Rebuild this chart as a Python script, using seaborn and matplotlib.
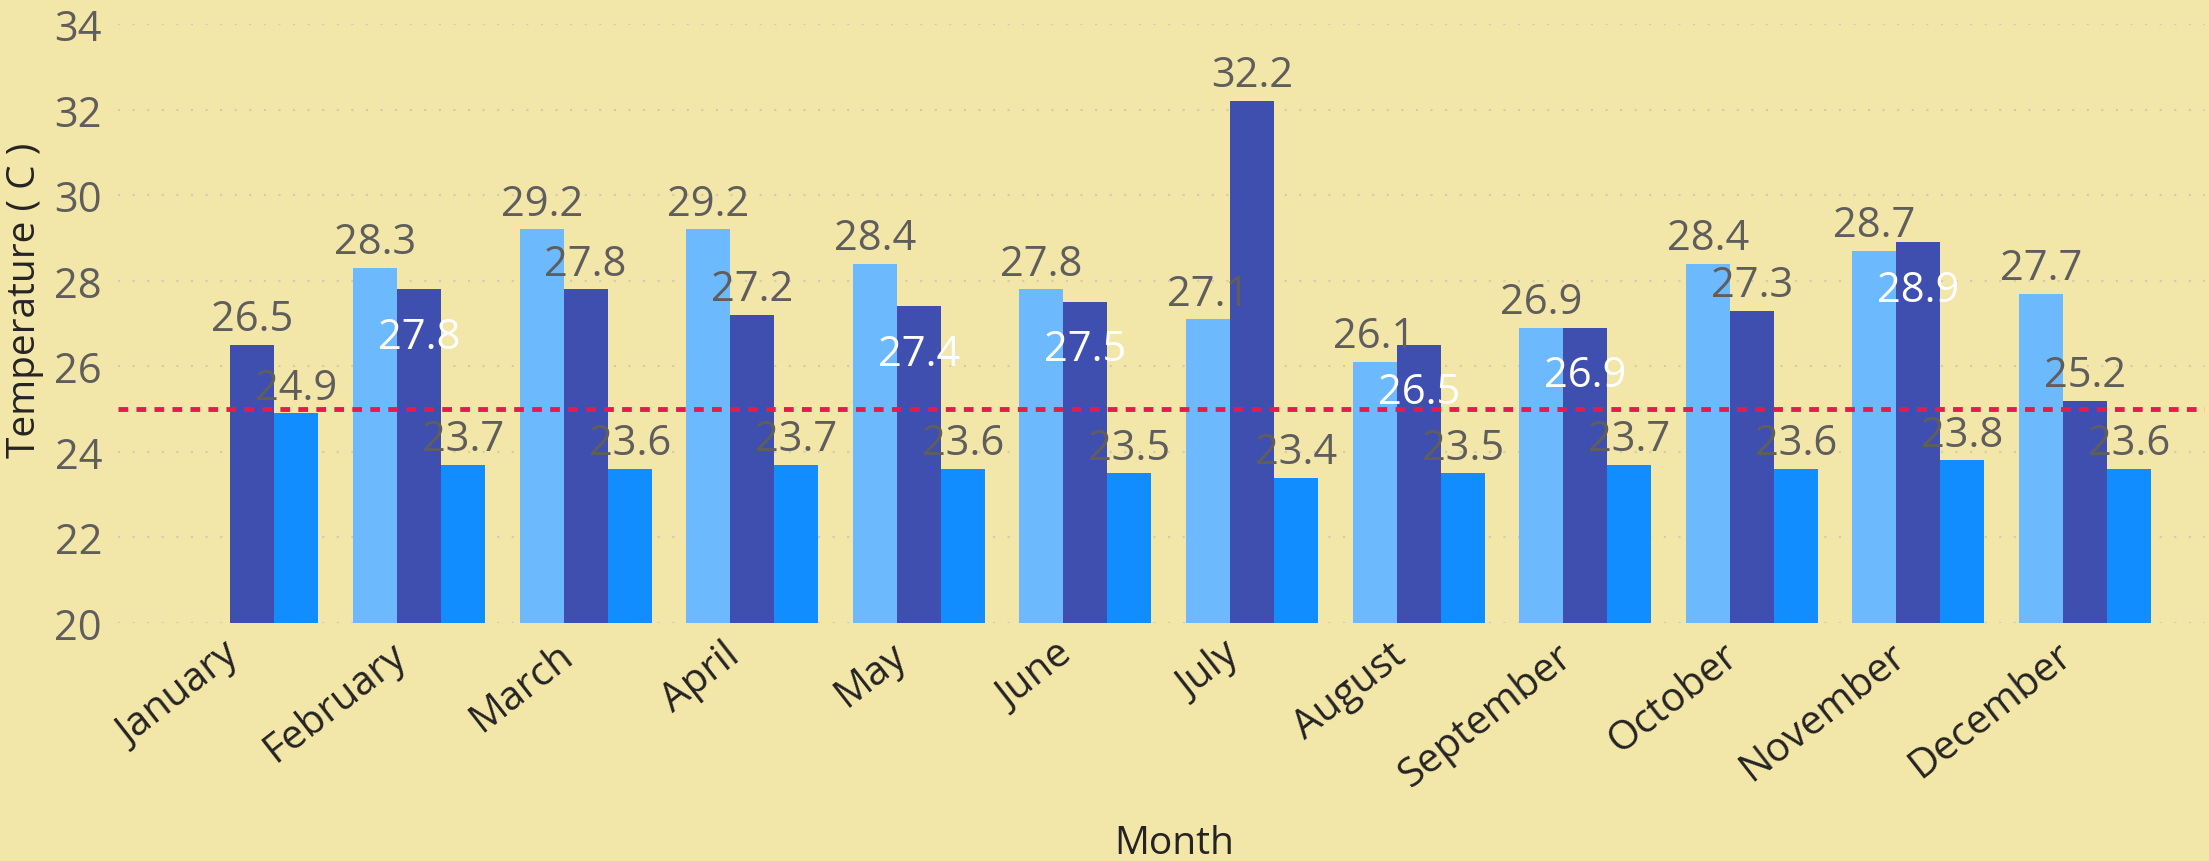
import numpy as np
import pandas as pd
import seaborn as sns
import matplotlib.pyplot as plt
import matplotlib.transforms as mtransforms

# --- data ---
months = ['January', 'February', 'March', 'April', 'May', 'June',
          'July', 'August', 'September', 'October', 'November', 'December']
series_names = ['Series 1', 'Series 2', 'Series 3']
series_1 = [np.nan, 28.3, 29.2, 29.2, 28.4, 27.8, 27.1, 26.1, 26.9, 28.4, 28.7, 27.7]
series_2 = [26.5, 27.8, 27.8, 27.2, 27.4, 27.5, 32.2, 26.5, 26.9, 27.3, 28.9, 25.2]
series_3 = [24.9, 23.7, 23.6, 23.7, 23.6, 23.5, 23.4, 23.5, 23.7, 23.6, 23.8, 23.6]
reference_line = 25
y_ticks = list(range(20, 35, 2))

palette = ['#6DB9FE', '#3F4FAF', '#118DFF']
bg = '#F2E6A9'
label_gray = '#605E5C'
dark_text = '#252423'

df = pd.DataFrame({
    'Month': months * 3,
    'Series': [s for s in series_names for _ in months],
    'Temp': series_1 + series_2 + series_3,
})

sns.set_theme(style='white')
plt.rcParams['font.family'] = ['Open Sans', 'DejaVu Sans']

fig = plt.figure(figsize=(22.09, 8.62), dpi=100, facecolor=bg)
ax = fig.add_axes([118 / 2209, 238 / 862, 2087 / 2209, 599 / 862])
ax.set_facecolor(bg)

sns.barplot(data=df, x='Month', y='Temp', hue='Series', order=months,
            hue_order=series_names, palette=palette, saturation=1,
            width=0.792, gap=0, errorbar=None, legend=False, ax=ax,
            linewidth=0, edgecolor='none', zorder=2)

# reference line
ax.axhline(reference_line, color='#E81A4B', lw=3.5, linestyle=(0, (2, 1.7)), zorder=4)

# middle series label goes inside the bar when it would clash with the first series label
inside = [(not np.isnan(a)) and round(abs(a - b), 1) <= 1.0 for a, b in zip(series_1, series_2)]

for name, container in zip(series_names, ax.containers):
    for bar in container:
        h = bar.get_height()
        if np.isnan(h):
            continue
        xc = bar.get_x() + bar.get_width() / 2
        i = int(round(xc))
        if name == series_names[1] and inside[i]:
            ax.annotate(f'{h:.1f}', (xc, h), xytext=(0, -42), textcoords='offset points',
                        ha='center', va='baseline', color='white', fontsize=30, zorder=6)
        else:
            ax.annotate(f'{h:.1f}', (xc, h), xytext=(0, 10.5), textcoords='offset points',
                        ha='center', va='baseline', color=label_gray, fontsize=30, zorder=6)

ax.set_ylim(20, 34)
ax.set_xlim(-0.807, 11.72)
ax.set_yticks(y_ticks)
ax.yaxis.grid(True, linestyle=(0, (1, 6)), color='#CFCBB4', lw=1.5)
ax.set_axisbelow(True)
for s in ax.spines.values():
    s.set_visible(False)

ax.tick_params(axis='y', length=0, pad=11.5, labelsize=30, labelcolor=label_gray)
ax.tick_params(axis='x', length=0, pad=6, labelsize=29, labelcolor=dark_text)
# slant the month names and nudge them left like the original
shift = mtransforms.ScaledTranslation(-0.30, -0.03, fig.dpi_scale_trans)
for lab in ax.get_xticklabels():
    lab.set_rotation(38)
    lab.set_ha('right')
    lab.set_va('top')
    lab.set_rotation_mode('anchor')
    lab.set_transform(lab.get_transform() + shift)

ax.set_xlabel('Month', fontsize=28, color=dark_text)
ax.xaxis.set_label_coords(0.506, -0.335)
ax.set_ylabel('Temperature ( C )', fontsize=28, color=dark_text)
ax.yaxis.set_label_coords(-0.0355, 0.54)

plt.savefig('out.png', dpi=100, facecolor=bg)
plt.close()
